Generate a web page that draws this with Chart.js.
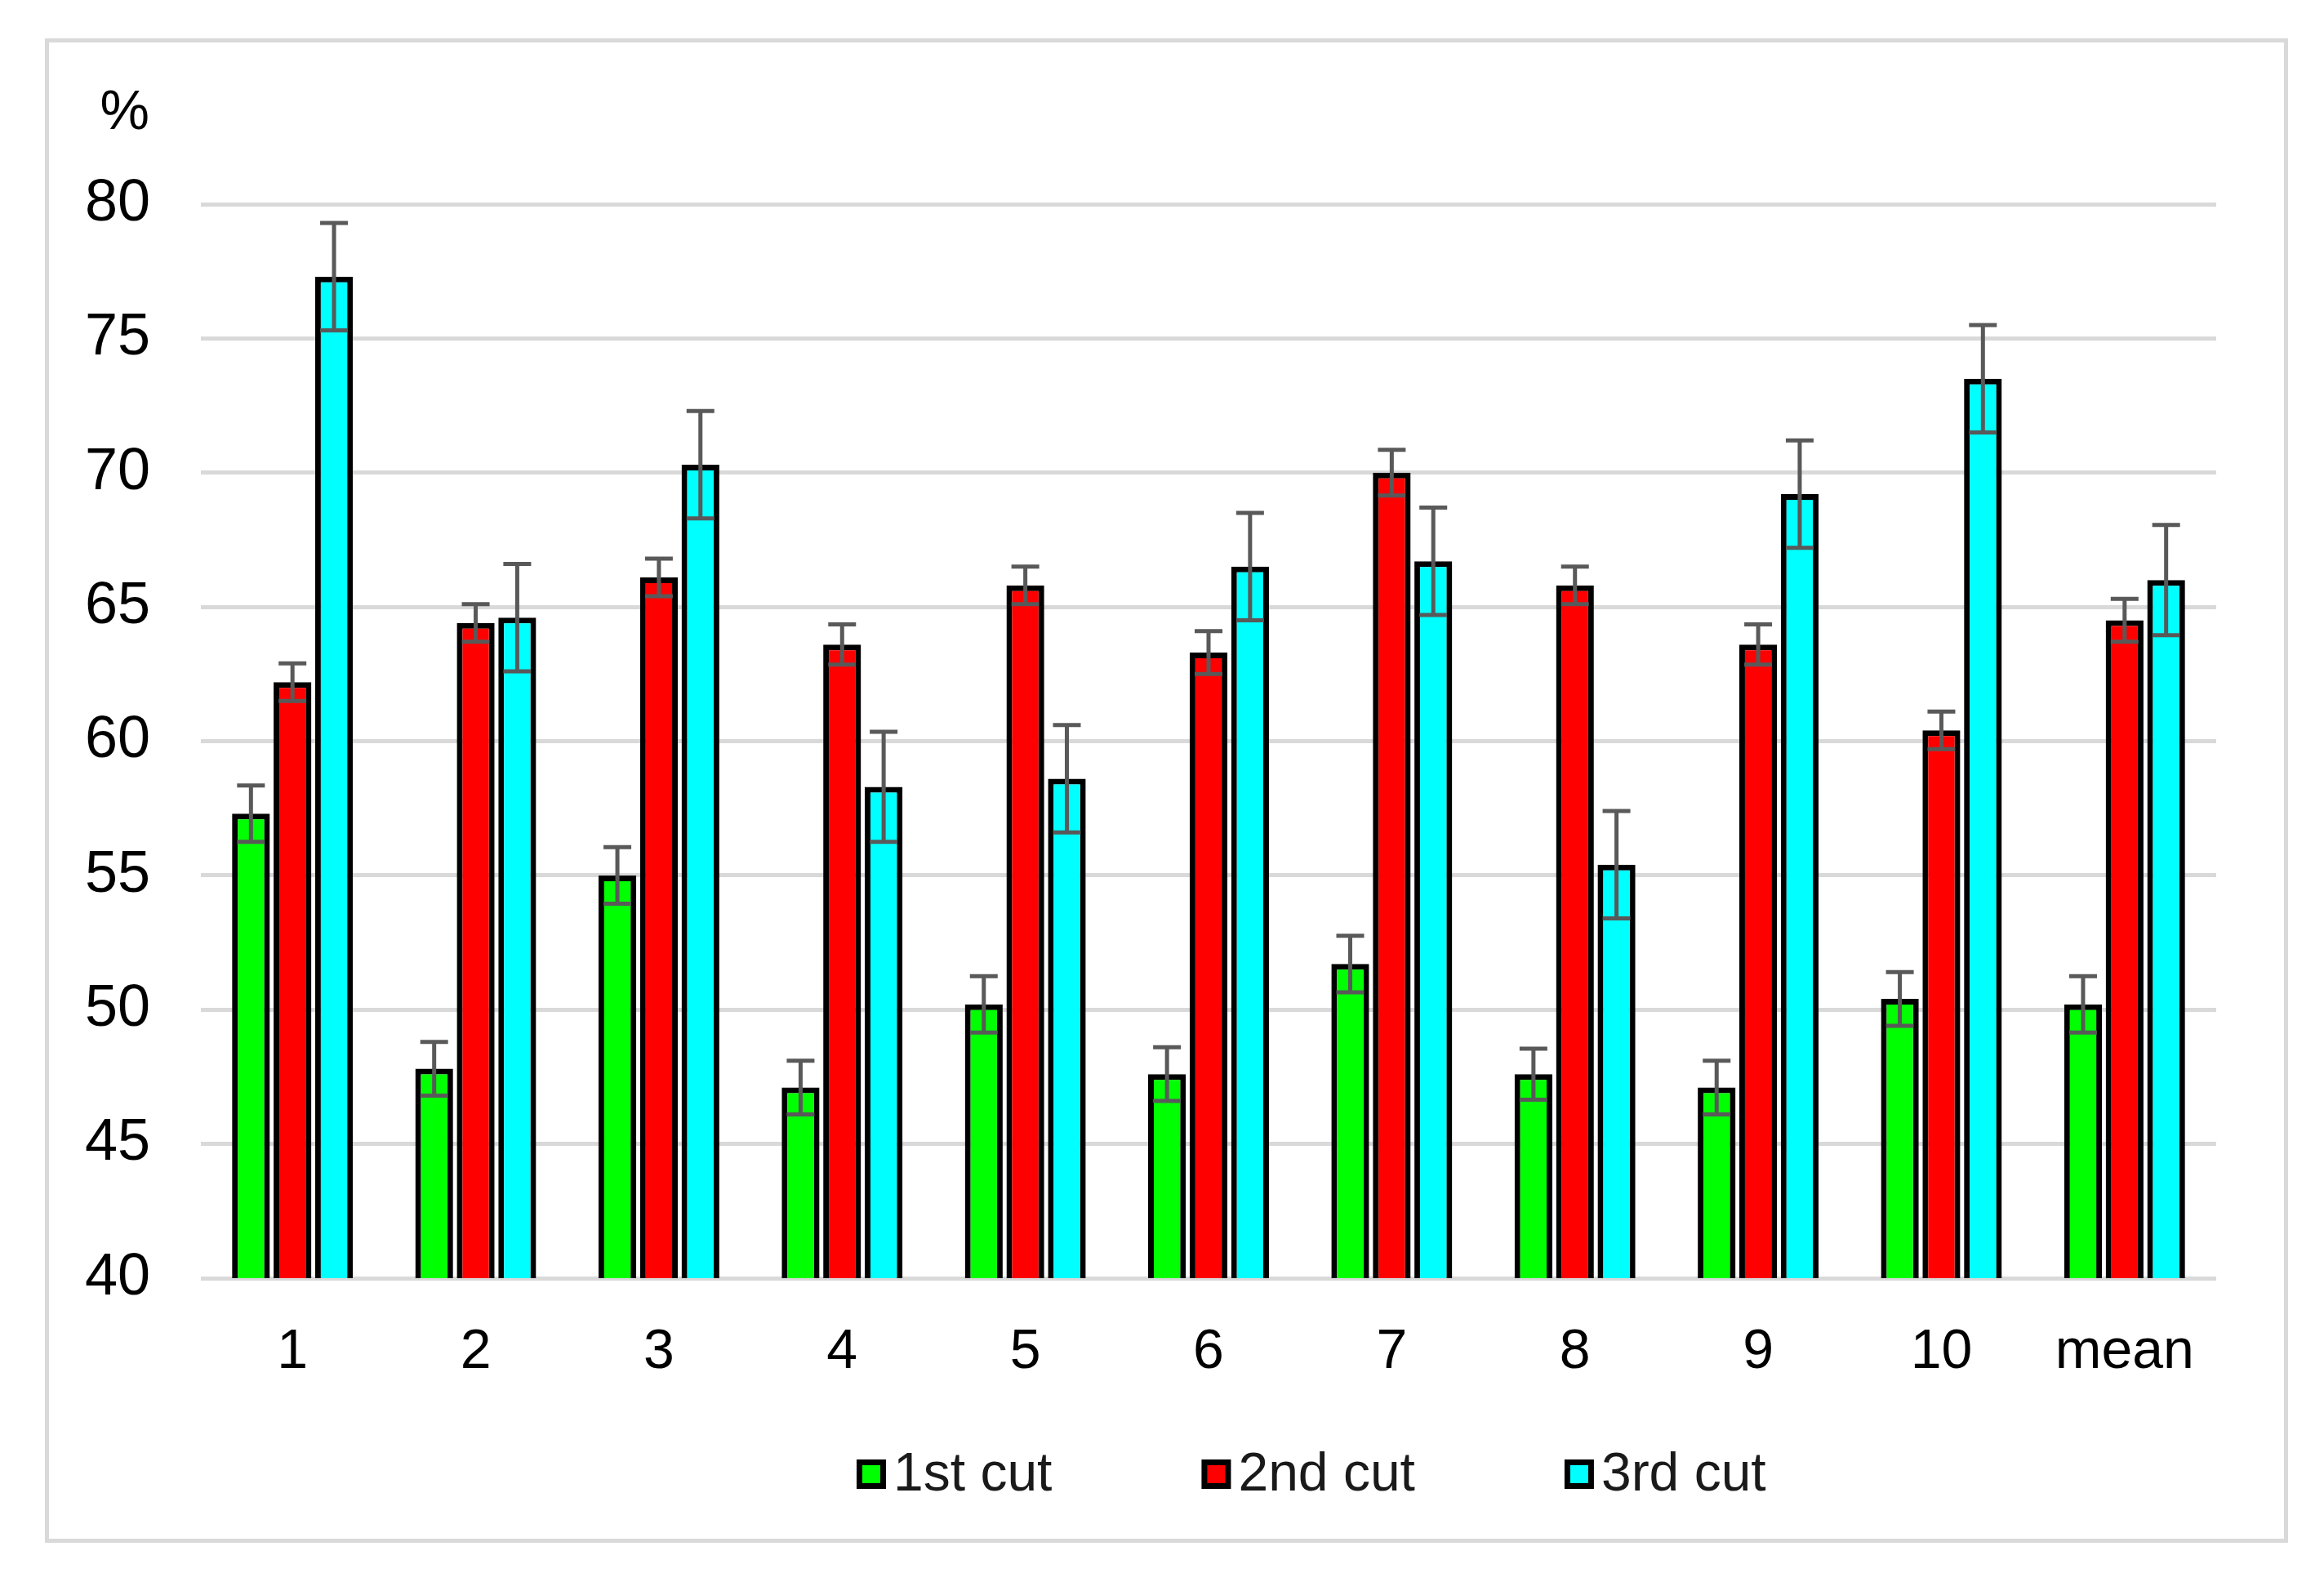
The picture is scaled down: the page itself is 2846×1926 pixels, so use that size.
<!DOCTYPE html>
<html lang="en">
<head>
    <meta charset="UTF-8">
    <script src="https://cdn.jsdelivr.net/npm/chart.js"></script>
    <title>Cuts</title>
    <style>
    body {
        margin: 0;
        background-color: white;
    }
    #frame {
        position: absolute;
        left: 55px;
        top: 47px;
        width: 2737px;
        height: 1832px;
        border: 5px solid #d9d9d9;
    }
    </style>
</head>
<body>
    <div id="frame">
        <canvas id="cutChart" width="2737" height="1832"></canvas>
    </div>

    <script>
        // Data
        const categories = ['1', '2', '3', '4', '5', '6', '7', '8', '9', '10', 'mean'];
        const seriesNames = ['1st cut', '2nd cut', '3rd cut'];
        const firstCut = [57.3, 47.8, 55.0, 47.1, 50.2, 47.6, 51.7, 47.6, 47.1, 50.4, 50.2];
        const secondCut = [62.2, 64.4, 66.1, 63.6, 65.8, 63.3, 70.0, 65.8, 63.6, 60.4, 64.5];
        const thirdCut = [77.3, 64.6, 70.3, 58.3, 58.6, 66.5, 66.7, 55.4, 69.2, 73.5, 66.0];
        const firstErr = [1.05, 1.0, 1.05, 1.0, 1.05, 1.0, 1.05, 0.95, 1.0, 1.0, 1.05];
        const secondErr = [0.7, 0.7, 0.7, 0.75, 0.7, 0.8, 0.85, 0.7, 0.75, 0.7, 0.8];
        const thirdErr = [2.0, 2.0, 2.0, 2.05, 2.0, 2.0, 2.0, 2.0, 2.0, 2.0, 2.05];
        const yTicks = [40, 45, 50, 55, 60, 65, 70, 75, 80];

        const colors = ['#00ff00', '#ff0000', '#00ffff'];
        const fontName = '"Liberation Sans", Arial, sans-serif';

        // Error bars drawn on top of the bars
        const errorBars = {
            id: 'errorBars',
            afterDatasetsDraw(chart) {
                const ctx = chart.ctx;
                const yScale = chart.scales.y;
                ctx.save();
                ctx.strokeStyle = '#595959';
                ctx.lineWidth = 5;
                chart.data.datasets.forEach((ds, i) => {
                    const meta = chart.getDatasetMeta(i);
                    meta.data.forEach((bar, j) => {
                        const v = ds.data[j];
                        const e = ds.errors[j];
                        const top = yScale.getPixelForValue(v + e);
                        const bottom = yScale.getPixelForValue(v - e);
                        const half = 17;
                        ctx.beginPath();
                        ctx.moveTo(bar.x, top);
                        ctx.lineTo(bar.x, bottom);
                        ctx.moveTo(bar.x - half, top);
                        ctx.lineTo(bar.x + half, top);
                        ctx.moveTo(bar.x - half, bottom);
                        ctx.lineTo(bar.x + half, bottom);
                        ctx.stroke();
                    });
                });
                ctx.restore();
            }
        };

        // "%" unit label and the legend under the axis
        const extras = {
            id: 'extras',
            afterDraw(chart) {
                const ctx = chart.ctx;
                ctx.save();
                ctx.fillStyle = 'black';
                ctx.font = '68px ' + fontName;
                ctx.textAlign = 'right';
                ctx.textBaseline = 'alphabetic';
                ctx.fillText('%', 123, 106);

                let x = 989;
                const boxTop = 1735;
                const box = 36;
                ctx.font = '66px ' + fontName;
                ctx.textAlign = 'left';
                ctx.textBaseline = 'middle';
                seriesNames.forEach((name, i) => {
                    ctx.fillStyle = 'black';
                    ctx.fillRect(x, boxTop, box, box);
                    ctx.fillStyle = colors[i];
                    ctx.fillRect(x + 7, boxTop + 7, box - 14, box - 14);
                    ctx.fillStyle = '#1a1a1a';
                    ctx.fillText(name, x + box + 9, boxTop + box / 2 + 2);
                    x += box + 9 + ctx.measureText(name).width + 183;
                });
                ctx.restore();
            }
        };

        const values = [firstCut, secondCut, thirdCut];
        const errs = [firstErr, secondErr, thirdErr];

        const cutChart = new Chart(document.getElementById('cutChart'), {
            type: 'bar',
            data: {
                labels: categories,
                datasets: seriesNames.map((name, i) => ({
                    label: name,
                    data: values[i],
                    errors: errs[i],
                    backgroundColor: colors[i],
                    borderColor: 'black',
                    borderWidth: 7,
                    categoryPercentage: 0.68,
                    barPercentage: 0.91
                }))
            },
            options: {
                responsive: false,
                devicePixelRatio: 1,
                animation: false,
                layout: {
                    padding: { left: 0, right: 83, top: 198, bottom: 0 }
                },
                plugins: {
                    legend: { display: false },
                    tooltip: { enabled: false }
                },
                scales: {
                    x: {
                        grid: { display: false },
                        border: { display: false },
                        ticks: {
                            color: 'black',
                            padding: 42,
                            font: { family: fontName, size: 68 }
                        },
                        afterFit(scale) {
                            scale.height = 319;
                        }
                    },
                    y: {
                        min: 40,
                        max: 80,
                        afterBuildTicks(scale) {
                            scale.ticks = yTicks.map(v => ({ value: v }));
                        },
                        grid: {
                            color: '#d9d9d9',
                            lineWidth: 5,
                            drawTicks: false
                        },
                        border: { display: false },
                        ticks: {
                            color: 'black',
                            padding: 62,
                            font: { family: fontName, size: 72 }
                        },
                        afterFit(scale) {
                            scale.width = 186;
                        }
                    }
                }
            },
            plugins: [errorBars, extras]
        });
    </script>
</body>
</html>
